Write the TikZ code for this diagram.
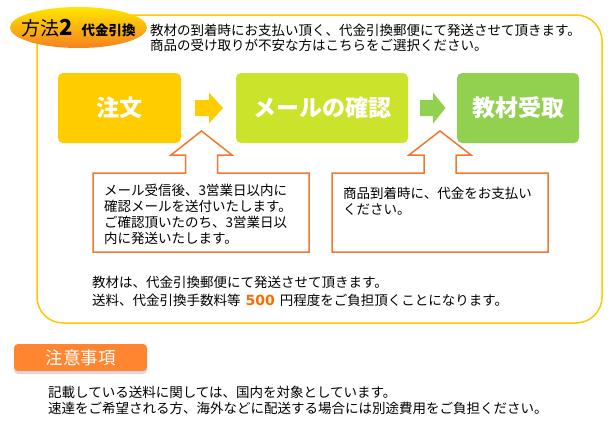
\documentclass[tikz,border=0pt]{standalone}
\usepackage{fontspec}
\setmainfont{Noto Sans CJK JP}
\newfontfamily\numfont{DejaVu Sans}
\usepackage{tikz}
\usetikzlibrary{shapes.geometric, shadows}

\definecolor{framegold}{RGB}{255,200,0}
\definecolor{boxyellow}{RGB}{255,204,0}
\definecolor{boxlime}{RGB}{204,227,43}
\definecolor{boxgreen}{RGB}{146,208,80}
\definecolor{calloutorange}{RGB}{242,120,48}
\definecolor{priceorange}{RGB}{255,106,0}
\definecolor{notelabel}{RGB}{255,133,48}
\definecolor{ellipsetop}{RGB}{255,230,0}
\definecolor{ellipsebottom}{RGB}{245,130,32}

\begin{document}
\begin{tikzpicture}[x=1pt, y=-1pt,
	flowbox/.style={rounded corners=5pt, minimum height=70pt, inner sep=0pt, text=white, font=\fontsize{23}{23}\selectfont\bfseries},
	bodytext/.style={anchor=west, inner sep=0pt, align=left, font=\fontsize{13.5}{16}\selectfont},
	callout/.style={draw=calloutorange, line width=1.5pt, fill=white, line join=miter}]

		\useasboundingbox (0,0) rectangle (614,431);

		% Row and column parameters
		\def\yrow{108}
		\def\ytop{131}
		\def\ywing{155}
		\def\ybox{173}
		\def\ybot{252}

		% --- Outer frame ---
		\draw[framegold, line width=1.5pt, rounded corners=26pt] (37,15) rectangle (602,323);

		% --- Title ellipse ---
		\node[ellipse, minimum width=137pt, minimum height=41pt, inner sep=0pt, top color=ellipsetop, bottom color=ellipsebottom] (method) at (78.5,27.5) {};
		\node[anchor=west, inner sep=0pt] (methodlabel) at (21,28) {{\fontsize{19}{19}\selectfont 方法\textbf{\fontsize{22}{22}\selectfont 2}}\hspace{9pt}{\fontsize{13.5}{13.5}\selectfont\bfseries 代金引換}};

		\node[bodytext] (intro1) at (150,30) {教材の到着時にお支払い頂く、代金引換郵便にて発送させて頂きます。};
		\node[bodytext] (intro2) at (150,45) {商品の受け取りが不安な方はこちらをご選択ください。};

		% --- Flow boxes ---
		\node[flowbox, fill=boxyellow, minimum width=123pt] (order) at (119.5,\yrow) {注文};
		\node[flowbox, fill=boxlime, minimum width=172pt] (mailcheck) at (322,\yrow) {メールの確認};
		\node[flowbox, fill=boxgreen, minimum width=122pt] (receive) at (518,\yrow) {教材受取};

		% block arrows between the boxes
		\fill[boxyellow] (195,100) -- (209,100) -- (209,92.5) -- (223,\yrow) -- (209,123.5) -- (209,116) -- (195,116) -- cycle;
		\fill[boxgreen] (420,100) -- (433,100) -- (433,92.5) -- (445.5,\yrow) -- (433,123.5) -- (433,116) -- (420,116) -- cycle;

		% --- Callouts ---
		\draw[callout] (93,\ybox) -- (185.5,\ybox) -- (185.5,\ywing) -- (171,\ywing) -- (201.5,\ytop) -- (232,\ywing) -- (217.5,\ywing) -- (217.5,\ybox) -- (309,\ybox) -- (309,\ybot) -- (93,\ybot) -- cycle;
		\node[bodytext] (notice1) at (104,214) {メール受信後、3営業日以内に\\確認メールを送付いたします。\\ご確認頂いたのち、3営業日以\\内に発送いたします。};

		\draw[callout] (332,\ybox) -- (424,\ybox) -- (424,\ywing) -- (409,\ywing) -- (440,\ytop) -- (471,\ywing) -- (456,\ywing) -- (456,\ybox) -- (548,\ybox) -- (548,\ybot) -- (332,\ybot) -- cycle;
		\node[bodytext] (notice2) at (343,201) {商品到着時に、代金をお支払い\\ください。};

		% --- Shipping note ---
		\node[bodytext] (ship1) at (92,282) {教材は、代金引換郵便にて発送させて頂きます。};
		\node[bodytext] (ship2) at (92,300) {送料、代金引換手数料等\hspace{5pt}{\numfont\bfseries\fontsize{14}{14}\selectfont\color{priceorange}500}\hspace{5pt}円程度をご負担頂くことになります。};

		% --- Caution ---
		\node[fill=notelabel, rounded corners=4pt, minimum width=133pt, minimum height=27pt, inner sep=0pt, text=white, font=\fontsize{17.5}{17.5}\selectfont, drop shadow={shadow xshift=0pt, shadow yshift=-3pt, opacity=0.3}] (caution) at (80.5,357.5) {注意事項};

		\node[bodytext] (caution1) at (48,392) {記載している送料に関しては、国内を対象としています。};
		\node[bodytext] (caution2) at (48,408) {速達をご希望される方、海外などに配送する場合には別途費用をご負担ください。};

	\end{tikzpicture}
\end{document}
